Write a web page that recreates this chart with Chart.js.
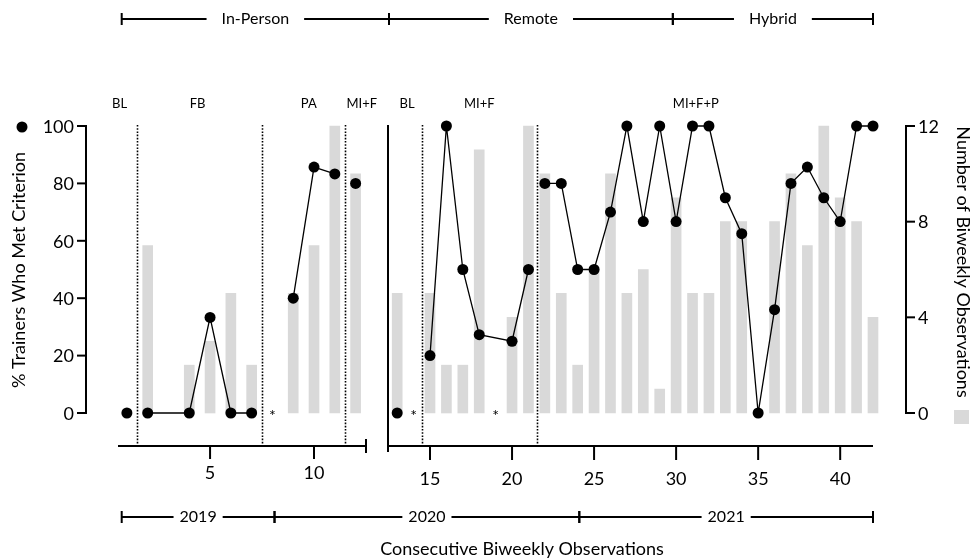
<!DOCTYPE html>
<html>
<head>
<meta charset="utf-8">
<title>Trainers who met criterion</title>
<script src="https://cdn.jsdelivr.net/npm/chart.js@4.4.1/dist/chart.umd.min.js"></script>
<style>
  html, body { margin: 0; padding: 0; background: #fff; }
  #wrap { position: relative; width: 971px; height: 558px; }
  #wrap canvas { position: absolute; left: 0; top: 0; }
</style>
</head>
<body>
<div id="wrap">
  <canvas id="left-panel" width="971" height="558"></canvas>
  <canvas id="right-panel" width="971" height="558"></canvas>
</div>
<script>
// Data
const observations = [1, 2, 3, 4, 5, 6, 7, 8, 9, 10, 11, 12,
    13, 14, 15, 16, 17, 18, 19, 20, 21,
    22, 23, 24, 25, 26, 27, 28, 29, 30, 31, 32, 33, 34, 35, 36, 37, 38, 39, 40, 41, 42];
const pctMet = [0, 0, null, 0, 33.3, 0, 0, null, 40, 85.7, 83.3, 80,
    0, null, 20, 100, 50, 27.3, null, 25, 50,
    80, 80, 50, 50, 70, 100, 66.7, 100, 66.7, 100, 100, 75, 62.5, 0, 36, 80, 85.7, 75, 66.7, 100, 100];
const obsCount = [null, 7, null, 2, 3, 5, 2, null, 5, 7, 12, 10,
    5, null, 5, 2, 2, 11, null, 4, 12,
    10, 5, 2, 6, 10, 5, 6, 1, 9, 5, 5, 8, 8, 0, 8, 10, 7, 12, 9, 8, 4];
const noDataObs = [8, 14, 19];
const phaseChanges = [1.5, 7.5, 11.5, 14.5, 21.5];
const phaseNames = ['BL', 'FB', 'PA', 'MI+F', 'BL', 'MI+F', 'MI+F+P'];
const pctTicks = [0, 20, 40, 60, 80, 100];
const countTicks = [0, 4, 8, 12];
const leftXTicks = [5, 10];
const rightXTicks = [15, 20, 25, 30, 35, 40];
const settings = ['In-Person', 'Remote', 'Hybrid'];
const settingEdges = [0.75, 12.5, 29.8, 42];
const years = ['2019', '2020', '2021'];
const yearEdges = [0.75, 8.1, 24.1, 42];

// Layout (pixels / observation units), not data
const layout = {
    plotTop: 126, plotBottom: 413, xAxisY: 446,
    leftAxisX: 86, rightAxisX: 906,
    phaseLabelAt: [0.65, 4.4, 9.75, 12.3, 13.6, 18, 31.2],
    phaseLabelY: 104,
    settingY: 19, yearY: 517, titleY: 549
};
const font = 'Lato, "Open Sans", sans-serif';
let leftChart;

// Split a panel's observations into bars and one line per phase
function panelData(lo, hi) {
    const bars = [];
    const lines = [];
    observations.forEach((o, i) => {
        if (o >= lo && o <= hi && obsCount[i] !== null) bars.push({ x: o, y: obsCount[i] });
    });
    const edges = [lo - 0.5, ...phaseChanges.filter(b => b > lo && b < hi), hi + 0.5];
    for (let k = 0; k < edges.length - 1; k++) {
        const pts = [];
        observations.forEach((o, i) => {
            if (o > edges[k] && o < edges[k + 1] && pctMet[i] !== null) pts.push({ x: o, y: pctMet[i] });
        });
        if (pts.length) lines.push(pts);
    }
    return { bars, lines };
}

function makeDatasets(d) {
    const ds = [{
        type: 'bar', data: d.bars, yAxisID: 'yc',
        backgroundColor: '#d9d9d9', barThickness: 10, clip: false, order: 2
    }];
    d.lines.forEach(pts => ds.push({
        type: 'line', data: pts, yAxisID: 'yp',
        borderColor: '#000', borderWidth: 1.3, tension: 0,
        pointRadius: 5.5, pointBackgroundColor: '#000', pointBorderWidth: 0,
        spanGaps: true, clip: false, order: 1
    }));
    return ds;
}

function panelOptions(xmin, xmax, pad) {
    return {
        responsive: false, animation: false, events: [],
        layout: { padding: pad },
        plugins: { legend: { display: false }, tooltip: { enabled: false } },
        scales: {
            x: { type: 'linear', min: xmin, max: xmax, offset: false, display: false },
            yp: { type: 'linear', min: 0, max: 100, display: false },
            yc: { type: 'linear', min: 0, max: 12, display: false }
        }
    };
}

function line(ctx, x0, y0, x1, y1) {
    ctx.beginPath();
    ctx.moveTo(x0, y0);
    ctx.lineTo(x1, y1);
    ctx.stroke();
}

// Observation value -> pixel, picking the panel it belongs to
function obsPx(v, rightPanel) {
    return v < 12.45 ? leftChart.scales.x.getPixelForValue(v) : rightPanel.scales.x.getPixelForValue(v);
}

// Things both panels draw: phase lines, phase labels, asterisks
function drawPhaseStuff(chart, lo, hi) {
    const ctx = chart.ctx;
    const xs = chart.scales.x;
    ctx.save();
    ctx.strokeStyle = '#000';
    ctx.lineWidth = 1.6;
    ctx.setLineDash([1.6, 1.6]);
    phaseChanges.filter(b => b > lo && b < hi).forEach(b => {
        const x = Math.round(xs.getPixelForValue(b)) + 0.5;
        line(ctx, x, layout.plotTop - 1, x, layout.xAxisY);
    });
    ctx.setLineDash([]);
    ctx.fillStyle = '#000';
    ctx.font = '13px ' + font;
    ctx.textAlign = 'center';
    ctx.textBaseline = 'middle';
    phaseNames.forEach((name, i) => {
        const at = layout.phaseLabelAt[i];
        if (at > lo && at < hi) ctx.fillText(name, xs.getPixelForValue(at), layout.phaseLabelY);
    });
    ctx.font = '16px ' + font;
    noDataObs.filter(o => o > lo && o < hi).forEach(o => {
        ctx.fillText('*', xs.getPixelForValue(o), chart.scales.yp.getPixelForValue(0) + 3);
    });
    ctx.restore();
}

const leftAxes = {
    id: 'leftAxes',
    afterDraw(chart) {
        const ctx = chart.ctx;
        const xs = chart.scales.x, yp = chart.scales.yp;
        drawPhaseStuff(chart, 0, 12.5);
        ctx.save();
        ctx.strokeStyle = '#000';
        ctx.fillStyle = '#000';
        ctx.lineWidth = 2;
        // % axis
        const ax = layout.leftAxisX;
        line(ctx, ax, yp.getPixelForValue(100) - 1, ax, yp.getPixelForValue(0) + 1);
        ctx.font = '18px ' + font;
        ctx.textAlign = 'right';
        ctx.textBaseline = 'middle';
        pctTicks.forEach(t => {
            const y = yp.getPixelForValue(t);
            line(ctx, ax - 9, y, ax, y);
            ctx.fillText(String(t), ax - 12, y + 1);
        });
        // x axis of the left panel
        const y0 = layout.xAxisY;
        line(ctx, xs.left, y0, xs.right, y0);
        line(ctx, xs.right, y0 - 7, xs.right, y0 + 7);
        ctx.textAlign = 'center';
        leftXTicks.forEach(t => {
            const x = xs.getPixelForValue(t);
            line(ctx, x, y0, x, y0 + 13);
            ctx.fillText(String(t), x, y0 + 27);
        });
        // axis title and marker
        ctx.beginPath();
        ctx.arc(22, yp.getPixelForValue(100) + 1, 5.5, 0, Math.PI * 2);
        ctx.fill();
        ctx.save();
        ctx.translate(19, 270);
        ctx.rotate(-Math.PI / 2);
        ctx.fillText('% Trainers Who Met Criterion', 0, 0);
        ctx.restore();
        ctx.restore();
    }
};

function bracket(ctx, x0, x1, y, label, pad) {
    const w = ctx.measureText(label).width;
    const c = (x0 + x1) / 2;
    line(ctx, x0, y, c - w / 2 - pad, y);
    line(ctx, c + w / 2 + pad, y, x1, y);
    line(ctx, x0, y - 6, x0, y + 6);
    line(ctx, x1, y - 6, x1, y + 6);
    ctx.fillText(label, c, y);
}

const rightAxes = {
    id: 'rightAxes',
    afterDraw(chart) {
        const ctx = chart.ctx;
        const xs = chart.scales.x, yc = chart.scales.yc;
        drawPhaseStuff(chart, 12.5, 43);
        ctx.save();
        ctx.strokeStyle = '#000';
        ctx.fillStyle = '#000';
        ctx.lineWidth = 2;
        const y0 = layout.xAxisY;
        // panel edge and x axis
        line(ctx, xs.left, layout.plotTop - 1, xs.left, y0 + 6);
        line(ctx, xs.left, y0, xs.right, y0);
        ctx.font = '18px ' + font;
        ctx.textAlign = 'center';
        ctx.textBaseline = 'middle';
        rightXTicks.forEach(t => {
            const x = xs.getPixelForValue(t);
            line(ctx, x, y0, x, y0 + 14);
            ctx.fillText(String(t), x, y0 + 33);
        });
        // count axis
        const ax = layout.rightAxisX;
        line(ctx, ax, yc.getPixelForValue(12) - 1, ax, yc.getPixelForValue(0) + 1);
        ctx.textAlign = 'left';
        countTicks.forEach(t => {
            const y = yc.getPixelForValue(t);
            line(ctx, ax, y, ax + 9, y);
            ctx.fillText(String(t), ax + 12, y + 1);
        });
        ctx.fillStyle = '#d9d9d9';
        ctx.fillRect(954, yc.getPixelForValue(0) - 3, 15, 14);
        ctx.fillStyle = '#000';
        ctx.save();
        ctx.translate(963, 262);
        ctx.rotate(Math.PI / 2);
        ctx.textAlign = 'center';
        ctx.fillText('Number of Biweekly Observations', 0, 0);
        ctx.restore();

        // setting and year brackets, x title
        ctx.textAlign = 'center';
        ctx.font = '16px ' + font;
        settings.forEach((s, i) => bracket(ctx, obsPx(settingEdges[i], chart), obsPx(settingEdges[i + 1], chart), layout.settingY, s, 15));
        years.forEach((s, i) => bracket(ctx, obsPx(yearEdges[i], chart), obsPx(yearEdges[i + 1], chart), layout.yearY, s, 6));
        ctx.font = '18px ' + font;
        ctx.fillText('Consecutive Biweekly Observations', 522, layout.titleY);
        ctx.restore();
    }
};

function initCharts() {
    const left = panelData(1, 12);
    leftChart = new Chart(document.getElementById('left-panel').getContext('2d'), {
        type: 'bar',
        data: { datasets: makeDatasets(left) },
        options: panelOptions(0.572, 12.5, { left: 118, right: 605, top: layout.plotTop, bottom: 558 - layout.plotBottom }),
        plugins: [leftAxes]
    });

    const right = panelData(13, 42);
    new Chart(document.getElementById('right-panel').getContext('2d'), {
        type: 'bar',
        data: { datasets: makeDatasets(right) },
        options: panelOptions(12.44, 42, { left: 388, right: 98, top: layout.plotTop, bottom: 558 - layout.plotBottom }),
        plugins: [rightAxes]
    });
}

initCharts();
</script>
</body>
</html>
